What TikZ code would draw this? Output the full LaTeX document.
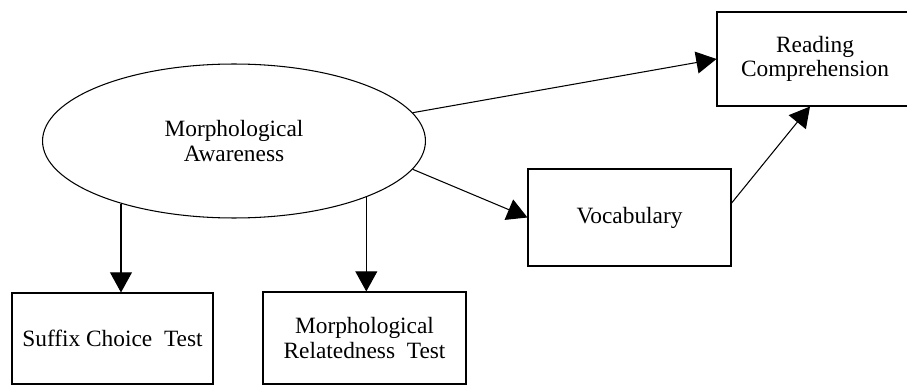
\documentclass[tikz,border=0pt]{standalone}
\usepackage{fontspec}
\setmainfont{Liberation Serif}
\usetikzlibrary{arrows.meta, shapes.geometric}
\tikzset{every node/.append style={font=\fontsize{13.3}{14}\selectfont, align=center}}
\tikzset{box/.style={draw, rectangle, inner sep=0pt}}

\begin{document}
\begin{tikzpicture}[x=0.02cm, y=-0.02cm, line width=0.6pt, >={Triangle[length=11.5pt, width=12.5pt]}]
    \useasboundingbox (0,0) rectangle (907,385);
    \clip (0,0) rectangle (907,385);
    \node[draw, ellipse, minimum width=7.66cm, minimum height=3.08cm, inner sep=0pt] (aware) at (234,141) {Morphological\\Awareness};
    \node[box, minimum width=3.92cm, minimum height=1.88cm] (read) at (815,59) {Reading\\Comprehension};
    \node[box, minimum width=4.06cm, minimum height=1.94cm] (vocab) at (629.5,217.5) {Vocabulary};
    \node[box, minimum width=4.02cm, minimum height=1.82cm] (suffix) at (112.5,338.5) {Suffix Choice\ \ Test};
    \node[box, minimum width=4.06cm, minimum height=1.84cm] (relate) at (364.5,338) {Morphological\\Relatedness\ \ Test};
    \draw[->] (aware.9) -- (read.west);
    \draw[->] (aware.-9) -- (vocab.west);
    \draw[->] (vocab.8) -- (read.264);
    \draw[->] (aware.209) -- (aware.209 |- suffix.north);
    \draw[->] (aware.-23) -- (aware.-23 |- relate.north);
\end{tikzpicture}
\end{document}
